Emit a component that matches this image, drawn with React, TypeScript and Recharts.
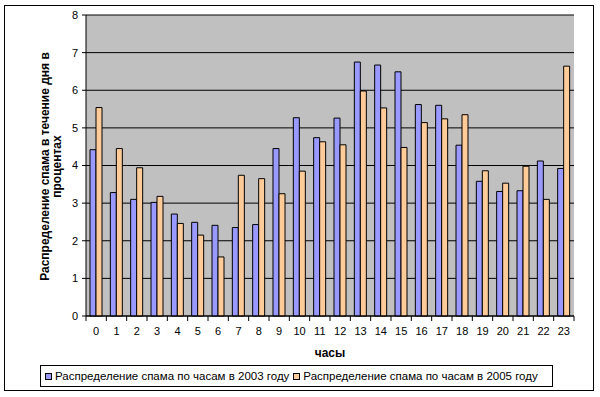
import React from 'react';
import { BarChart, Bar, XAxis, YAxis, CartesianGrid, Label } from 'recharts';

const hours = ['0', '1', '2', '3', '4', '5', '6', '7', '8', '9', '10', '11', '12', '13', '14', '15', '16', '17', '18', '19', '20', '21', '22', '23'];
const spam2003 = [4.42, 3.28, 3.1, 3.02, 2.71, 2.49, 2.41, 2.35, 2.43, 4.45, 5.27, 4.74, 5.26, 6.75, 6.67, 6.49, 5.62, 5.6, 4.54, 3.58, 3.31, 3.33, 4.12, 3.92];
const spam2005 = [5.54, 4.45, 3.94, 3.18, 2.46, 2.15, 1.57, 3.74, 3.65, 3.25, 3.85, 4.63, 4.55, 5.98, 5.53, 4.48, 5.14, 5.24, 5.35, 3.86, 3.53, 3.98, 3.1, 6.64];
const yTicks = [0, 1, 2, 3, 4, 5, 6, 7, 8];
const series2003 = 'Распределение спама по часам в 2003 году';
const series2005 = 'Распределение спама по часам в 2005 году';
const xTitle = 'часы';
const yTitle = ['Распределение спама в течение дня в', 'процентах'];

const data = hours.map((h, i) => ({ hour: h, y2003: spam2003[i], y2005: spam2005[i] }));

const W = 600;
const H = 397;
const margin = { top: 15, right: 26, bottom: 51, left: 0 };
const Y_W = 86;
const PLOT_W = W - margin.left - margin.right - Y_W;
const STEP = PLOT_W / hours.length;
const FONT = '"Liberation Sans", Arial, sans-serif';
const BLUE = '#9999FF';
const PEACH = '#FFCC99';

function HourTick(props: any) {
  const { x, y, payload, index } = props;
  const axisY = y - 10;
  return (
    <g>
      <line x1={x - STEP / 2} x2={x - STEP / 2} y1={axisY} y2={axisY + 5} stroke="#000" />
      {index === hours.length - 1 && (
        <line x1={x + STEP / 2} x2={x + STEP / 2} y1={axisY} y2={axisY + 5} stroke="#000" />
      )}
      <text x={x} y={y + 9} textAnchor="middle" fontSize={11} fontFamily={FONT} fill="#000">
        {payload.value}
      </text>
    </g>
  );
}

function YTitle(props: any) {
  const vb = props.viewBox || { y: 15, height: 301 };
  const cy = vb.y + vb.height / 2 + 1;
  return (
    <g>
      {yTitle.map((line, i) => (
        <text
          key={i}
          x={0}
          y={0}
          transform={`translate(${49 + i * 12}, ${cy}) rotate(-90)`}
          textAnchor="middle"
          fontSize={12}
          fontWeight="bold"
          fontFamily={FONT}
          fill="#000"
        >
          {line}
        </text>
      ))}
    </g>
  );
}

function XTitle(props: any) {
  const vb = props.viewBox || { x: 86, y: 316, width: 488 };
  return (
    <text x={vb.x + vb.width / 2} y={357} textAnchor="middle" fontSize={12} fontWeight="bold" fontFamily={FONT} fill="#000">
      {xTitle}
    </text>
  );
}

function LegendItem({ color, text }: { color: string; text: string }) {
  return (
    <span style={{ display: 'inline-flex', alignItems: 'center', marginRight: 4 }}>
      <span style={{ width: 5, height: 5, background: color, border: '1px solid #000', marginRight: 3 }} />
      <span>{text}</span>
    </span>
  );
}

export default function App() {
  return (
    <div style={{ position: 'absolute', left: 0, top: 0, width: W, height: H, background: '#fff' }}>
      <div style={{ position: 'absolute', left: 4, top: 5, width: 588, height: 384, border: '1px solid #000' }} />
      <div style={{ position: 'absolute', left: 0, top: 0 }}>
        <BarChart width={W} height={H} data={data} margin={margin} barGap={0} barSize={6}>
          <CartesianGrid vertical={false} stroke="#000" fill="#C0C0C0" fillOpacity={1} />
          <XAxis
            dataKey="hour"
            axisLine={{ stroke: '#000' }}
            tickLine={false}
            tickSize={4}
            tickMargin={6}
            height={30}
            interval={0}
            tick={<HourTick />}
          >
            <Label content={<XTitle />} />
          </XAxis>
          <YAxis
            width={Y_W}
            domain={[0, 8]}
            ticks={yTicks}
            interval={0}
            axisLine={{ stroke: '#000' }}
            tickLine={{ stroke: '#000' }}
            tickSize={4}
            tickMargin={4}
            tick={{ fill: '#000', fontSize: 11, fontFamily: FONT }}
          >
            <Label content={<YTitle />} />
          </YAxis>
          <Bar dataKey="y2003" name={series2003} fill={BLUE} stroke="#000" strokeWidth={1} isAnimationActive={false} />
          <Bar dataKey="y2005" name={series2005} fill={PEACH} stroke="#000" strokeWidth={1} isAnimationActive={false} />
        </BarChart>
      </div>
      <div
        style={{
          position: 'absolute',
          left: 40,
          top: 365,
          width: 513,
          height: 22,
          border: '1px solid #000',
          background: '#fff',
          display: 'flex',
          alignItems: 'center',
          paddingLeft: 4,
          boxSizing: 'border-box',
          fontFamily: FONT,
          fontSize: 11.5,
          whiteSpace: 'nowrap',
          color: '#000',
          overflow: 'hidden',
        }}
      >
        <LegendItem color={BLUE} text={series2003} />
        <LegendItem color={PEACH} text={series2005} />
      </div>
    </div>
  );
}
